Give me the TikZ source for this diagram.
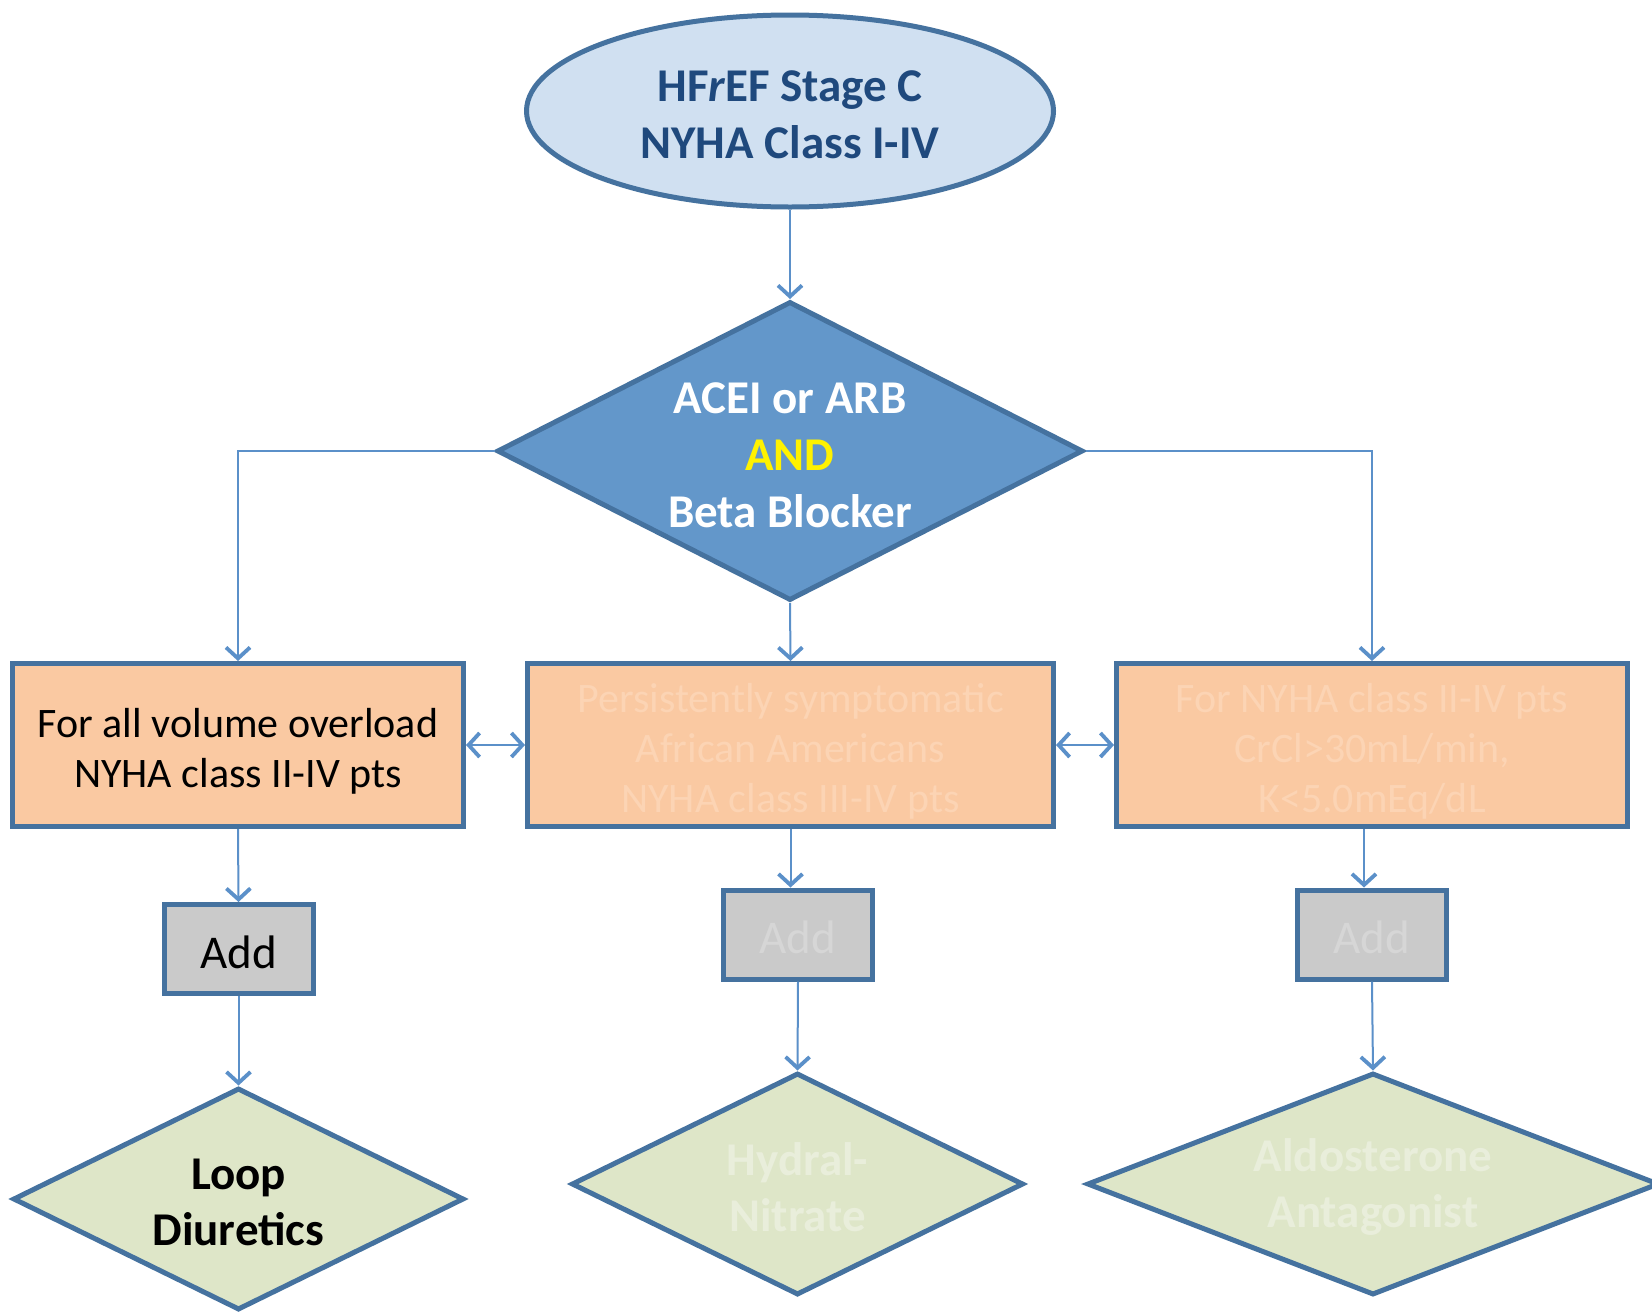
\documentclass[tikz,border=0pt]{standalone}
\usepackage{fontspec}
\setmainfont{Carlito}
\usetikzlibrary{shapes.geometric,arrows.meta}
\definecolor{bord}{HTML}{45729F}
\definecolor{lineb}{HTML}{5B90C9}
\definecolor{ellfill}{HTML}{D0E0F1}
\definecolor{elltext}{HTML}{1F497D}
\definecolor{diafill}{HTML}{6397CA}
\definecolor{peach}{HTML}{FAC9A2}
\definecolor{peachtxt}{HTML}{FCD4B4}
\definecolor{grayfill}{HTML}{CACACA}
\definecolor{graytxt}{HTML}{D6D6D6}
\definecolor{greenfill}{HTML}{DEE6C8}
\definecolor{greentxt}{HTML}{E9EEDB}
\begin{document}
\begin{tikzpicture}[x=1pt,y=-1pt,
  >={Straight Barb[length=11pt,width=24pt,line width=3.8pt]},
  shapeline/.style={draw=bord, line width=5pt, inner sep=0pt},
  bigbox/.style={shapeline, rectangle, fill=peach, minimum height=163pt},
  boxtext/.style={align=center, inner sep=0pt, font=\fontsize{42}{50}\selectfont},
  addbox/.style={shapeline, rectangle, fill=grayfill, minimum width=149pt, minimum height=89pt},
  addtext/.style={inner sep=0pt, font=\fontsize{47}{57}\selectfont},
  gdia/.style={shapeline, diamond, fill=greenfill, minimum height=222pt},
  dtext/.style={align=center, inner sep=0pt, font=\bfseries\fontsize{47}{56}\selectfont},
  conn/.style={draw=lineb, line width=2pt, ->},
  dconn/.style={draw=lineb, line width=2pt, <->},
  ]
\useasboundingbox[fill=white] (0,0) rectangle (1652,1312);

% top ellipse
\node[shapeline, ellipse, fill=ellfill, minimum width=527pt, minimum height=192pt] (e) at (790,111) {};
\node[dtext, text=elltext, font=\bfseries\fontsize{47}{57}\selectfont] (et) at (790,115)
  {HF{\itshape r}EF Stage C\\NYHA Class I-IV};

% main decision diamond
\node[shapeline, diamond, fill=diafill, minimum width=586pt, minimum height=299pt] (d1) at (790,451) {};
\node[dtext, text=white, font=\bfseries\fontsize{47}{57}\selectfont] (d1t) at (790,455)
  {ACEI or ARB\\\textcolor{yellow}{AND}\\Beta Blocker};

% condition boxes
\node[bigbox, minimum width=451pt] (b1) at (238,745) {};
\node[boxtext] (b1t) at (238,751) {For all volume overload\\NYHA class II-IV pts};
\node[bigbox, minimum width=526pt] (b2) at (790.5,745) {};
\node[boxtext, text=peachtxt] (b2t) at (790.5,751)
  {Persistently symptomatic\\African Americans\\NYHA class III-IV pts};
\node[bigbox, minimum width=511pt] (b3) at (1372,745) {};
\node[boxtext, text=peachtxt] (b3t) at (1372,751)
  {For NYHA class II-IV pts\\CrCl>30mL/min,\\K<5.0mEq/dL};

% add boxes
\node[addbox] (a1) at (238.5,949) {};
\node[addtext] (a1t) at (238.5,952) {Add};
\node[addbox] (a2) at (798,934.5) {};
\node[addtext, text=graytxt] (a2t) at (798,937.5) {Add};
\node[addbox] (a3) at (1372,934.5) {};
\node[addtext, text=graytxt] (a3t) at (1372,937.5) {Add};

% drug diamonds
\node[gdia, minimum width=451pt] (l1) at (238.5,1199) {};
\node[dtext] (l1t) at (238.5,1202) {Loop\\Diuretics};
\node[gdia, minimum width=452pt] (l2) at (797.5,1184) {};
\node[dtext, text=greentxt] (l2t) at (797.5,1187) {Hydral-\\Nitrate};
\node[gdia, minimum width=572pt] (l3) at (1373,1184) {};
\node[dtext, text=greentxt] (l3t) at (1373,1187) {Aldosterone\\Antagonist};

% connectors
\draw[conn] (e) -- (d1);
\draw[conn] (d1.west) -| (b1.north);
\draw[conn] (d1.east) -| (b3.north);
\draw[conn] (d1.south) -- (b2.north);
\draw[dconn] (b1.east) -- (b2.west);
\draw[dconn] (b2.east) -- (b3.west);
\draw[conn] (b1.south) -- (a1.north);
\draw[conn] (b2.south) -- (b2.south |- a2.north);
\coordinate (b3s) at ([xshift=-8pt]b3.south);
\draw[conn] (b3s) -- (b3s |- a3.north);
\draw[conn] (a1.south) -- (l1.north);
\draw[conn] (a2.south) -- (l2.north);
\draw[conn] (a3.south) -- (l3.north);
\end{tikzpicture}
\end{document}
